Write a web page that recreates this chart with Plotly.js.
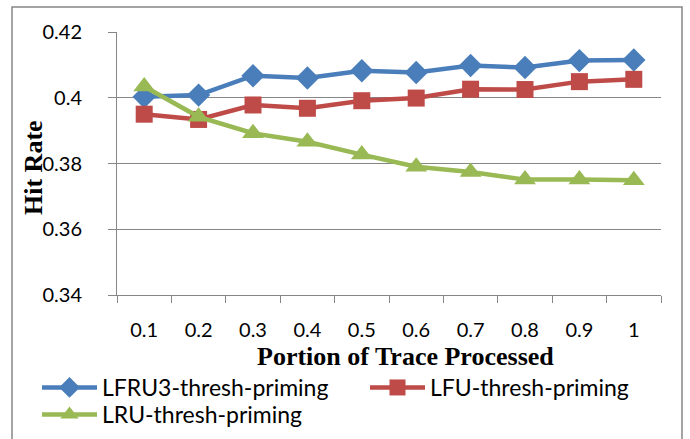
<!DOCTYPE html>
<html>
<head>
<meta charset="utf-8">
<script src="https://cdn.plot.ly/plotly-3.0.1.min.js"></script>
<style>
  html, body { margin: 0; padding: 0; background: #ffffff; }
  #chart { width: 690px; height: 439px; }
</style>
</head>
<body>
<div id="chart"></div>
<script>
// Fraction of the trace processed (category labels on the x axis)
const portions = ['0.1', '0.2', '0.3', '0.4', '0.5', '0.6', '0.7', '0.8', '0.9', '1'];

// Hit rate for each replacement policy
const lfru3Thresh = [0.4003, 0.4008, 0.4067, 0.4060, 0.4082, 0.4077, 0.4098, 0.4092, 0.4113, 0.4115];
const lfuThresh   = [0.3950, 0.3934, 0.3978, 0.3968, 0.3991, 0.3999, 0.4026, 0.4025, 0.4049, 0.4056];
const lruThresh   = [0.4034, 0.3942, 0.3892, 0.3866, 0.3827, 0.3790, 0.3774, 0.3751, 0.3751, 0.3749];

const seriesNames = ['LFRU3-thresh-priming', 'LFU-thresh-priming', 'LRU-thresh-priming'];
const yTicks = [0.34, 0.36, 0.38, 0.40, 0.42];
const yTickText = ['0.34', '0.36', '0.38', '0.4', '0.42'];

const W = 690, H = 439;
const M = { l: 117, r: 29, t: 32, b: 144, autoexpand: false };
const plotW = W - M.l - M.r, plotH = H - M.t - M.b;
const px = v => (v - M.l) / plotW;          // page x (px) -> paper x
const py = v => (H - M.b - v) / plotH;      // page y (px) -> paper y

const sansFont = 'Lato, "Open Sans", sans-serif';
const serifFont = '"Liberation Serif", "Times New Roman", serif';

// one legend box per series so the entries sit in two rows (2 + 1)
const legendSlots = ['legend', 'legend2', 'legend3'];

const traces = [
  { y: lfru3Thresh, name: seriesNames[0], color: '#4A7EBB', symbol: 'diamond', size: 18 },
  { y: lfuThresh,   name: seriesNames[1], color: '#BE4B48', symbol: 'square', size: 17 },
  { y: lruThresh,   name: seriesNames[2], color: '#98B954', symbol: 'triangle-up', size: 19 }
].map((s, i) => ({
  type: 'scatter',
  mode: 'lines+markers',
  x: portions,
  y: s.y,
  name: s.name,
  legend: legendSlots[i],
  line: { color: s.color, width: 4.5 },
  marker: { color: s.color, symbol: s.symbol, size: s.size, line: { width: 0 } }
}));

const legendBox = (left, top) => ({
  orientation: 'h',
  x: px(left), xanchor: 'left',
  y: py(top), yanchor: 'top',
  itemwidth: 55,
  font: { family: sansFont, size: 23, color: '#000000' },
  bgcolor: 'rgba(0,0,0,0)'
});

const layout = {
  width: W,
  height: H,
  margin: M,
  paper_bgcolor: '#ffffff',
  plot_bgcolor: '#ffffff',
  font: { family: sansFont, size: 20, color: '#000000' },
  showlegend: true,
  legend: legendBox(37, 366),
  legend2: legendBox(365, 366),
  legend3: legendBox(37, 393),
  xaxis: {
    type: 'category',
    range: [-0.5, portions.length - 0.5],
    tickson: 'boundaries',
    ticks: 'outside',
    ticklen: 7,
    tickcolor: '#868686',
    showline: true,
    linecolor: '#868686',
    linewidth: 1,
    showgrid: false,
    zeroline: false,
    ticklabelstandoff: 17,
    tickfont: { family: sansFont, size: 20, color: '#000000' },
    fixedrange: true
  },
  yaxis: {
    range: [0.34, 0.42],
    tickvals: yTicks,
    ticktext: yTickText,
    ticks: 'outside',
    ticklen: 8,
    tickcolor: '#868686',
    showline: true,
    linecolor: '#868686',
    linewidth: 1,
    showgrid: true,
    gridcolor: '#868686',
    gridwidth: 1,
    zeroline: false,
    ticklabelstandoff: 22,
    tickfont: { family: sansFont, size: 20, color: '#000000' },
    fixedrange: true
  },
  annotations: [
    {
      text: '<b>Portion of Trace Processed</b>',
      xref: 'paper', yref: 'paper',
      x: px(405), y: py(356),
      xanchor: 'center', yanchor: 'middle',
      showarrow: false,
      font: { family: serifFont, size: 26, color: '#000000' }
    },
    {
      text: '<b>Hit Rate</b>',
      xref: 'paper', yref: 'paper',
      x: px(33), y: py(168),
      xanchor: 'center', yanchor: 'middle',
      textangle: -90,
      showarrow: false,
      font: { family: serifFont, size: 26, color: '#000000' }
    }
  ],
  shapes: [
    {
      type: 'rect', xref: 'paper', yref: 'paper',
      x0: px(12), x1: px(682), y0: py(442), y1: py(7),
      line: { color: '#868686', width: 1.5 },
      fillcolor: 'rgba(0,0,0,0)',
      layer: 'below'
    }
  ]
};

Plotly.newPlot('chart', traces, layout, { displayModeBar: false, staticPlot: true });
</script>
</body>
</html>
